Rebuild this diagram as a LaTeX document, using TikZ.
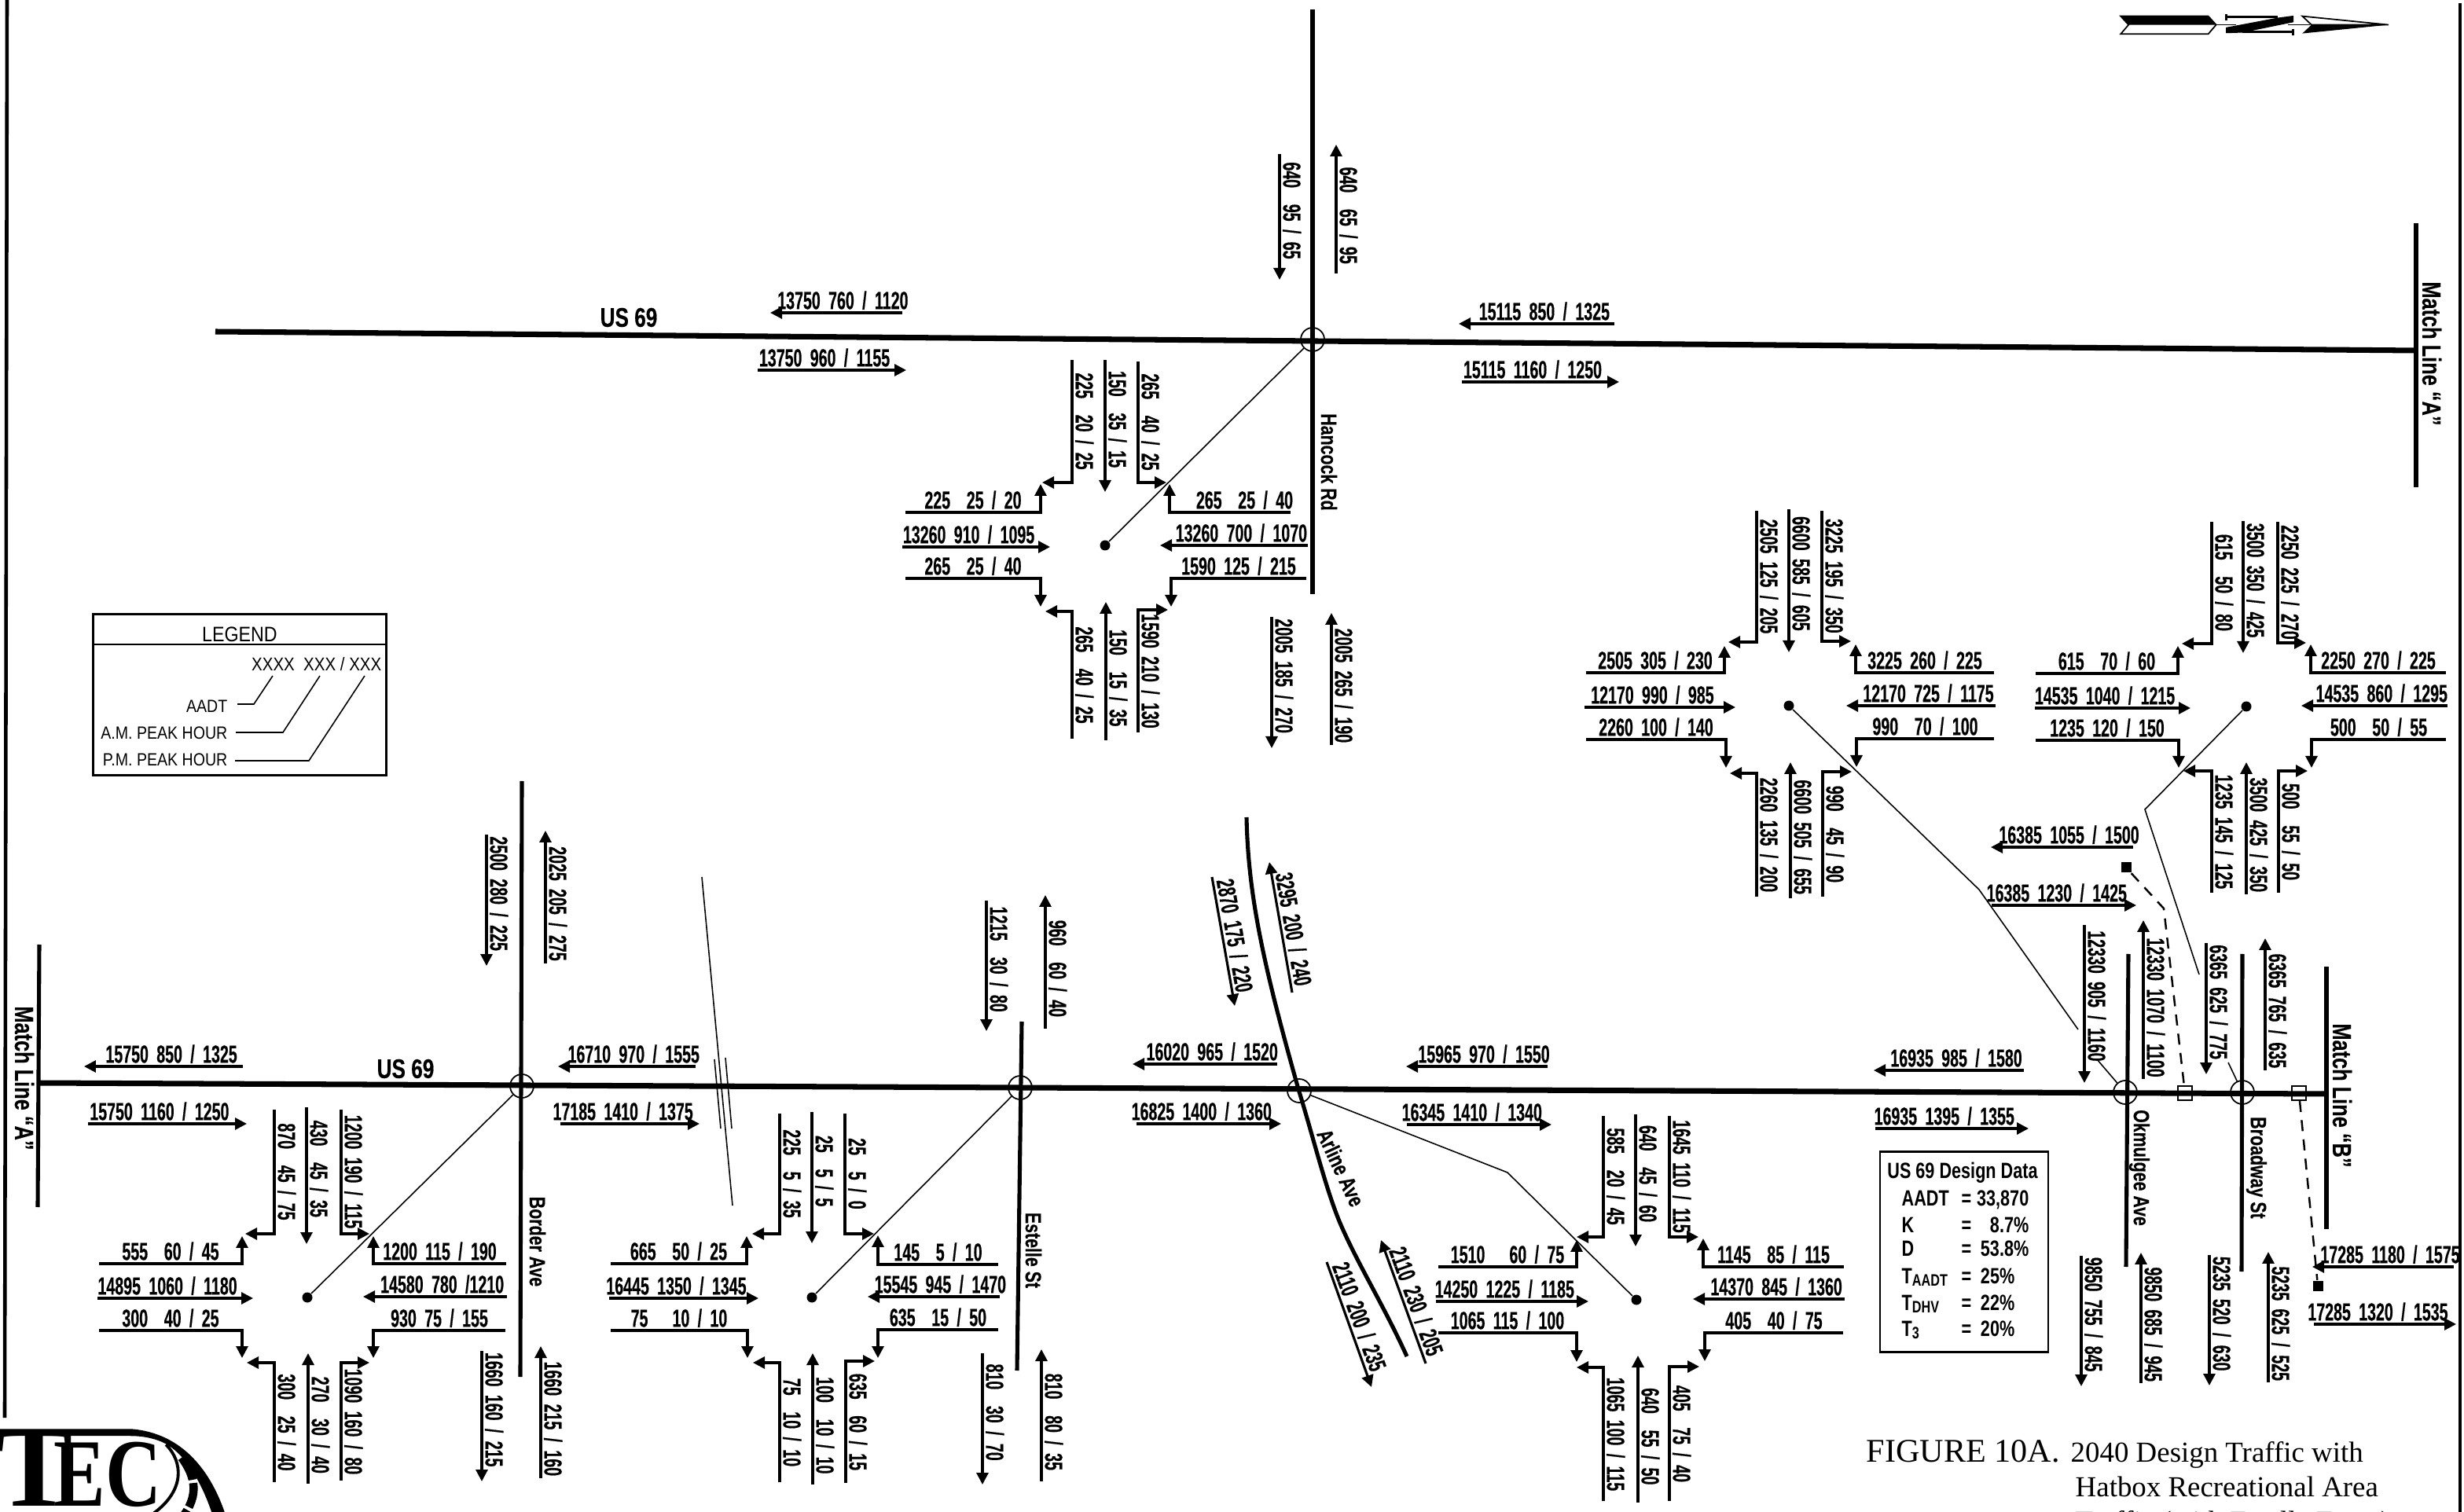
\documentclass[tikz,border=0pt]{standalone}
\usepackage{fontspec}
\usetikzlibrary{arrows.meta}
\setmainfont{Liberation Sans}
\newfontfamily\flowfont{Liberation Sans}[FakeStretch=0.62,WordSpace=1.9,BoldFeatures={FakeBold=0.4}]
\newfontfamily\roadfont{Liberation Sans}[FakeStretch=0.76,BoldFeatures={FakeBold=0.3}]
\newfontfamily\legfont{Liberation Sans}[FakeStretch=0.87]
\newfontfamily\datafont{Liberation Sans}[FakeStretch=0.77]
\newfontfamily\titlefont{Liberation Serif}
\newcommand{\lowtxt}[1]{\raisebox{-1pt}{\fontsize{6}{6}\selectfont #1}}
\newcommand{\hflow}[5]{\coordinate (#1_a) at (#2,#4); \coordinate (#1_b) at (#3,#4);
  \draw[flow] (#1_a) -- node[hlab] (#1) {#5} (#1_b);}
\newcommand{\vflow}[5]{\coordinate (#1_a) at (#2,#3); \coordinate (#1_b) at (#2,#4);
  \draw[flow] (#1_a) -- node[vlab] (#1) {#5} (#1_b);}
\newcommand{\dflow}[7]{\coordinate (#1_a) at (#2,#3); \coordinate (#1_b) at (#4,#5);
  \draw[flow] (#1_a) -- node[flowlab,pos=.47,rotate=#6,anchor=south] (#1) {#7} (#1_b);}
\newcommand{\hturn}[7][.5]{\coordinate (#2_a) at (#3,#5); \coordinate (#2_b) at (#4,#5); \coordinate (#2_c) at (#4,#6);
  \draw[flow] (#2_a) -- node[hlab,pos=#1] (#2) {#7} (#2_b) -- (#2_c);}
\newcommand{\vturn}[6]{\coordinate (#1_a) at (#2,#3); \coordinate (#1_b) at (#2,#4); \coordinate (#1_c) at (#5,#4);
  \draw[flow] (#1_a) -- node[vlab,pos=.5] (#1) {#6} (#1_b) -- (#1_c);}
\begin{document}
\begin{tikzpicture}[x=0.02cm,y=-0.02cm,>={Triangle[length=1.5mm,width=1.5mm]},
  road/.style={line width=2pt},
  sideroad/.style={line width=1.45pt},
  lead/.style={line width=0.45pt},
  flow/.style={line width=0.9pt,->},
  flowlab/.style={font=\flowfont\bfseries\fontsize{9}{9}\selectfont,inner sep=0.7pt},
  hlab/.style={flowlab,pos=.45,anchor=south},
  vlab/.style={flowlab,pos=.45,rotate=-90,anchor=south},
  roadlab/.style={font=\roadfont\bfseries\fontsize{8}{8}\selectfont,inner sep=0pt},
  xing/.style={circle,draw,line width=0.5pt,minimum size=3mm,inner sep=0pt},
  spot/.style={circle,fill,minimum size=1.3mm,inner sep=0pt},
  gate/.style={rectangle,draw,line width=0.5pt,minimum size=1.8mm,inner sep=0pt},
  stub/.style={rectangle,fill,minimum size=1.3mm,inner sep=0pt},
  legtxt/.style={font=\legfont\fontsize{6.4}{7}\selectfont,inner sep=0pt},
  datatxt/.style={font=\datafont\bfseries\fontsize{8}{8}\selectfont,inner sep=0pt,anchor=base},
  titletxt/.style={font=\titlefont\fontsize{10.5}{11}\selectfont,inner sep=0pt,anchor=base west}]
\useasboundingbox (0,0) rectangle (1567.5,962);
\clip (0,0) rectangle (1567.5,962);

\coordinate (fr_a) at (4.5,0); \coordinate (fr_b) at (3,902);
\coordinate (fr_c) at (1565,2); \coordinate (fr_d) at (1565,962);
\draw[line width=1.3pt] (fr_a) -- (fr_b);
\draw[line width=1pt] (fr_c) -- (fr_d);

\coordinate (us_a) at (137,211); \coordinate (us_b) at (1537,223);
\coordinate (us_c) at (24,689); \coordinate (us_d) at (1480,696);
\draw[road] (us_a) -- (us_b);
\draw[road] (us_c) -- (us_d);
\coordinate (hc_n) at (835,6); \coordinate (hc_s) at (835,378);
\coordinate (bd_n) at (332,497); \coordinate (bd_s) at (331,876);
\coordinate (es_n) at (650,650); \coordinate (es_s) at (647,872);
\coordinate (ok_n) at (1354,607); \coordinate (ok_s) at (1352.5,806);
\coordinate (br_n) at (1426.5,607); \coordinate (br_s) at (1426,809);
\coordinate (ar_n) at (793,520); \coordinate (ar_m) at (826,693); \coordinate (ar_s) at (895,863);
\coordinate (ma_n) at (1537,142); \coordinate (ma_s) at (1537,310);
\coordinate (mb_n) at (1480,615); \coordinate (mb_s) at (1480,782);
\coordinate (mc_n) at (25,601); \coordinate (mc_s) at (24,768);
\draw[sideroad] (hc_n) -- (hc_s);
\draw[sideroad] (bd_n) -- (bd_s);
\draw[sideroad] (es_n) -- (es_s);
\draw[sideroad] (ok_n) -- (ok_s);
\draw[sideroad] (br_n) -- (br_s);
\draw[sideroad] (ar_n) .. controls (794,570) and (804,615) .. (ar_m)
  .. controls (835,722) and (843,755) .. (852,777) .. controls (863,803) and (880,830) .. (ar_s);
\draw[sideroad] (ma_n) -- (ma_s);
\draw[sideroad] (mb_n) -- (mb_s);
\draw[sideroad] (mc_n) -- (mc_s);

\node[xing] (hc) at (835,216) {};
\node[xing] (bd) at (332,691) {};
\node[xing] (es) at (649,692) {};
\node[xing] (ar) at (826.5,694) {};
\node[xing] (ok) at (1352,695) {};
\node[xing] (br) at (1426.5,695) {};
\node[gate] (gt_a) at (1390,695.5) {};
\node[gate] (gt_b) at (1462.5,695.5) {};
\node[stub] (st_a) at (1352.5,552) {};
\node[stub] (st_b) at (1474.5,818) {};

\node[spot] (hc_d) at (703,347) {};
\node[spot] (bd_d) at (195.5,825.5) {};
\node[spot] (es_d) at (516.5,825.5) {};
\node[spot] (ar_d) at (1041,827) {};
\node[spot] (aa_d) at (1138,449) {};
\node[spot] (bb_d) at (1429,449.5) {};

\coordinate (ar_k) at (959,746);
\coordinate (aa_k) at (1259,566); \coordinate (aa_e) at (1322,655); \coordinate (aa_f) at (1334,674);
\coordinate (bb_k) at (1364.5,515); \coordinate (bb_e) at (1399,620); \coordinate (bb_f) at (1417.5,676);
\draw[lead] (hc_d) -- (hc);
\draw[lead] (bd_d) -- (bd);
\draw[lead] (es_d) -- (es);
\draw[lead] (ar_d) -- (ar_k) -- (ar);
\draw[lead] (aa_d) -- (aa_k) -- (aa_e);
\draw[lead] (aa_f) -- (ok);
\draw[lead] (bb_d) -- (bb_k) -- (bb_e);
\draw[lead] (bb_f) -- (br);

\coordinate (dd_a) at (1376.5,578);
\draw[line width=0.7pt,dash pattern=on 4pt off 3pt] (st_a) -- (dd_a) -- (gt_a);
\draw[line width=0.7pt,dash pattern=on 4pt off 3pt] (gt_b) -- (st_b);

\coordinate (bk_a) at (446.5,558); \coordinate (bk_b) at (466,767);
\coordinate (bk_c) at (454.5,674); \coordinate (bk_d) at (458.5,718);
\coordinate (bk_e) at (461.5,673); \coordinate (bk_f) at (465.5,718);
\draw[lead] (bk_a) -- (bk_b);
\draw[lead] (bk_c) -- (bk_d);
\draw[lead] (bk_e) -- (bk_f);

\node[roadlab,font=\roadfont\bfseries\fontsize{9.8}{10}\selectfont] (us_t1) at (400,202) {US 69};
\node[roadlab,font=\roadfont\bfseries\fontsize{9.8}{10}\selectfont] (us_t2) at (258,680) {US 69};
\node[roadlab,rotate=-90] (hc_t) at (845.5,294) {Hancock Rd};
\node[roadlab,rotate=-90] (bd_t) at (342,790) {Border Ave};
\node[roadlab,rotate=-90] (es_t) at (657.5,795.5) {Estelle St};
\node[roadlab,rotate=-65] (ar_t) at (853,743) {Arline Ave};
\node[roadlab,rotate=-90] (ok_t) at (1361,743) {Okmulgee Ave};
\node[roadlab,rotate=-90] (br_t) at (1435.5,743) {Broadway St};
\node[roadlab,rotate=-90,font=\roadfont\bfseries\fontsize{9.5}{10}\selectfont] (ma_t) at (1547,225) {Match Line “A”};
\node[roadlab,rotate=-90,font=\roadfont\bfseries\fontsize{9.5}{10}\selectfont] (mb_t) at (1490,697) {Match Line “B”};
\node[roadlab,rotate=-90,font=\roadfont\bfseries\fontsize{9.5}{10}\selectfont] (mc_t) at (15.5,686) {Match Line “A”};

\hflow{up_1}{574}{490}{199}{13750 760 / 1120}
\hflow{up_2}{482}{576.5}{235.5}{13750 960 / 1155}
\hflow{up_3}{1027}{928}{206}{15115 850 / 1325}
\hflow{up_4}{930}{1030}{243}{15115 1160 / 1250}
\vflow{up_5}{814}{98}{178}{640~~95 / 65}
\vflow{up_6}{850}{174}{92}{640~~65 / 95}
\vflow{up_7}{809}{392.5}{476}{2005 185 / 270}
\vflow{up_8}{847}{474}{390}{2005 265 / 190}

\hflow{lo_1}{154.5}{53.5}{678.5}{15750 850 / 1325}
\hflow{lo_2}{56}{157}{715}{15750 1160 / 1250}
\vflow{lo_3}{309.5}{531}{614.5}{2500 280 / 225}
\vflow{lo_4}{347}{613}{528.5}{2025 205 / 275}
\hflow{lo_5}{442.5}{355}{678.5}{16710 970 / 1555}
\hflow{lo_6}{356.5}{445}{715}{17185 1410 / 1375}
\vflow{lo_7}{306.5}{859.5}{942.5}{1660 160 / 215}
\vflow{lo_8}{344}{940.5}{856.5}{1660 215 / 160}
\vflow{lo_9}{627.5}{573}{656}{1215~~30 / 80}
\vflow{lo_10}{665}{654.5}{569.5}{960~~60 / 40}
\vflow{lo_11}{625}{861}{944.5}{810~~30 / 70}
\vflow{lo_12}{662.5}{942.5}{858.5}{810~~80 / 35}
\hflow{lo_13}{812.5}{720.5}{677}{16020 965 / 1520}
\hflow{lo_14}{723}{815}{715}{16825 1400 / 1360}
\dflow{lo_15}{771}{558}{785.5}{640}{-80}{2870 175 / 220}
\dflow{lo_16}{822}{631.5}{807.5}{548.5}{-80}{3295 200 / 240}
\dflow{lo_17}{844}{803}{872.5}{882.5}{-70}{2110 200 / 235}
\dflow{lo_18}{907}{867.5}{878.5}{789}{-70}{2110 230 / 205}
\hflow{lo_19}{984.5}{894.5}{678.5}{15965 970 / 1550}
\hflow{lo_20}{895}{987}{715.5}{16345 1410 / 1340}
\hflow{lo_21}{1287.5}{1192}{681}{16935 985 / 1580}
\hflow{lo_22}{1193}{1290.5}{718}{16935 1395 / 1355}
\hflow{lo_23}{1357}{1266.5}{539}{16385 1055 / 1500}
\hflow{lo_24}{1267}{1359}{576}{16385 1230 / 1425}
\vflow{lo_25}{1326}{588.5}{689}{12330 905 / 1160}
\vflow{lo_26}{1363.5}{686.5}{585.5}{12330 1070 / 1100}
\vflow{lo_27}{1403.5}{600}{683.5}{6365 625 / 775}
\vflow{lo_28}{1441}{681}{597}{6365 765 / 635}
\vflow{lo_29}{1324}{799}{882}{9850 755 / 845}
\vflow{lo_30}{1362}{880}{797}{9850 685 / 945}
\vflow{lo_31}{1405.5}{798.5}{881.5}{5235 520 / 630}
\vflow{lo_32}{1443}{879.5}{796.5}{5235 625 / 525}
\hflow{lo_33}{1561}{1471}{806}{17285 1180 / 1575}
\hflow{lo_34}{1472}{1562.5}{842.5}{17285 1320 / 1535}

\begin{scope}[shift={(703,347)}]
\vturn{hj_1}{-21}{-118}{-40}{-40}{225~~20 / 25}
\vflow{hj_2}{0}{-118}{-34}{150~~35 / 15}
\vturn{hj_3}{21}{-117}{-40}{39}{265~~40 / 25}
\hturn{hj_4}{-127}{-41}{-21}{-39}{225~~25 / 20}
\hflow{hj_5}{-129}{-35}{1}{13260 910 / 1095}
\hturn{hj_6}{-127}{-41}{21}{39}{265~~25 / 40}
\hturn[.38]{hj_7}{118}{41}{-21}{-39}{265~~25 / 40}
\hflow{hj_8}{129}{35}{0}{13260 700 / 1070}
\hturn{hj_9}{128}{42}{21}{39}{1590 125 / 215}
\vturn{hj_10}{-21}{123}{42}{-38}{265~~40 / 25}
\vflow{hj_11}{0.5}{124}{36}{150~~15 / 35}
\vturn{hj_12}{21}{119}{41}{40}{1590 210 / 130}
\end{scope}

\begin{scope}[shift={(195.5,825.5)}]
\vturn{bj_1}{-21}{-119.5}{-40.5}{-39.5}{870~~45 / 75}
\vflow{bj_2}{-0.5}{-121}{-34}{430~~45 / 35}
\vturn{bj_3}{21.5}{-119.5}{-40.5}{39.5}{1200 190 / 115}
\hturn{bj_4}{-132.5}{-41.5}{-21.5}{-39}{555~~60 / 45}
\hflow{bj_5}{-133.5}{-34.5}{0.5}{14895 1060 / 1180}
\hturn{bj_6}{-132.5}{-41.5}{21}{38.5}{300~~40 / 25}
\hturn{bj_7}{126.5}{42}{-21.5}{-39}{1200 115 / 190}
\hflow{bj_8}{127}{35.5}{-0.5}{14580 780 /1210}
\hturn{bj_9}{126}{42}{21}{38.5}{930 75 / 155}
\vturn{bj_10}{-21}{117.5}{41.5}{-38.5}{300~~25 / 40}
\vflow{bj_11}{0.5}{118.5}{35.5}{270~~30 / 40}
\vturn{bj_12}{21.5}{116.5}{41.5}{39.5}{1090 160 / 80}
\end{scope}

\begin{scope}[shift={(516.5,825.5)}]
\vturn{ej_1}{-20.5}{-117}{-40.5}{-38}{225~~5 / 35}
\vflow{ej_2}{0}{-118}{-34.5}{25~~5 / 5}
\vturn{ej_3}{21}{-117}{-40.5}{39.5}{25~~5 / 0}
\hturn{ej_4}{-128}{-41.5}{-21.5}{-39}{665~~50 / 25}
\hflow{ej_5}{-129}{-34}{0.5}{16445 1350 / 1345}
\hturn{ej_6}{-128}{-41}{21}{38.5}{75~~~10 / 10}
\hturn{ej_7}{118.5}{42}{-21}{-39.5}{145~~5 / 10}
\hflow{ej_8}{119.5}{35.5}{-0.5}{15545 945 / 1470}
\hturn{ej_9}{118.5}{42}{20.5}{38.5}{635~~15 / 50}
\vturn{ej_10}{-20.5}{117.5}{41.5}{-37.5}{75~~10 / 10}
\vflow{ej_11}{0.5}{119}{35.5}{100~~10 / 10}
\vturn{ej_12}{21.5}{118}{40.5}{40}{635~~60 / 15}
\end{scope}

\begin{scope}[shift={(1041,827)}]
\vturn{rj_1}{-21}{-117}{-40}{-38}{585~~20 / 45}
\vflow{rj_2}{-0.5}{-118}{-34}{640~~45 / 60}
\vturn{rj_3}{21}{-117}{-40}{39.5}{1645 110 / 115}
\hturn{rj_4}{-126}{-38}{-21}{-38}{1510~~~60 / 75}
\hflow{rj_5}{-127.5}{-30.5}{1}{14250 1225 / 1185}
\hturn{rj_6}{-126}{-38}{21}{39.5}{1065 115 / 100}
\hturn{rj_7}{132}{42.5}{-21}{-39}{1145~~85 / 115}
\hflow{rj_8}{132.5}{36}{-0.5}{14370 845 / 1360}
\hturn{rj_9}{131.5}{43.5}{21}{39}{405~~40 / 75}
\vturn{rj_10}{-21}{128}{43}{-38}{1065 100 / 115}
\vflow{rj_11}{1}{129}{35.5}{640~~55 / 50}
\vturn{rj_12}{21}{128}{42.5}{40}{405~~75 / 40}
\end{scope}

\begin{scope}[shift={(1138,449)}]
\vturn{aj_1}{-20.5}{-124}{-40.5}{-38.5}{2505 125 / 205}
\vflow{aj_2}{0}{-125}{-34}{6600 585 / 605}
\vturn{aj_3}{21}{-124}{-41}{39.5}{3225 195 / 350}
\hturn{aj_4}{-129}{-41}{-21}{-38}{2505 305 / 230}
\hflow{aj_5}{-130}{-34}{1}{12170 990 / 985}
\hturn{aj_6}{-129}{-40}{21.5}{39.5}{2260 100 / 140}
\hturn{aj_7}{130.5}{42.5}{-21}{-39}{3225 260 / 225}
\hflow{aj_8}{131.5}{36.5}{0}{12170 725 / 1175}
\hturn{aj_9}{130.5}{43}{21}{39}{990~~70 / 100}
\vturn{aj_10}{-20.5}{121.5}{43}{-37.5}{2260 135 / 200}
\vflow{aj_11}{1}{122.5}{36}{6600 505 / 655}
\vturn{aj_12}{21.5}{121.5}{42}{40}{990~~45 / 90}
\end{scope}

\begin{scope}[shift={(1429,449.5)}]
\vturn{cj_1}{-22}{-117.5}{-40}{-41}{615~~50 / 80}
\vflow{cj_2}{-2}{-118}{-34}{3500 350 / 425}
\vturn{cj_3}{20}{-117.5}{-40.5}{38}{2250 225 / 270}
\hturn{cj_4}{-134}{-43.5}{-21}{-38.5}{615~~70 / 60}
\hflow{cj_5}{-134.5}{-35.5}{1}{14535 1040 / 1215}
\hturn{cj_6}{-134}{-43}{21.5}{39}{1235 120 / 150}
\hturn{cj_7}{127}{41}{-21.5}{-39.5}{2250 270 / 225}
\hflow{cj_8}{128}{35}{-0.5}{14535 860 / 1295}
\hturn{cj_9}{127}{41.5}{21}{39}{500~~50 / 55}
\vturn{cj_10}{-22}{118.5}{41}{-40}{1235 145 / 125}
\vflow{cj_11}{0}{119.5}{35.5}{3500 425 / 350}
\vturn{cj_12}{20.5}{118.5}{41}{39}{500~~55 / 50}
\end{scope}

\node[draw,line width=0.7pt,minimum width=3.73cm,minimum height=2.05cm,inner sep=0pt] (lg) at (152.5,442) {};
\coordinate (lg_w) at (lg.west |- 0,410); \coordinate (lg_e) at (lg.east |- 0,410);
\draw[line width=0.6pt] (lg_w) -- (lg_e);
\node[legtxt,font=\legfont\fontsize{7.6}{8}\selectfont] (lg_t) at (152.5,403.5) {LEGEND};
\node[legtxt,font=\legfont\fontsize{6.7}{7}\selectfont,anchor=east] (lg_x) at (243,422.5) {XXXX~~XXX / XXX};
\node[legtxt,anchor=east] (lg_a) at (145,449.5) {AADT};
\node[legtxt,anchor=east] (lg_b) at (145,466.5) {A.M. PEAK HOUR};
\node[legtxt,anchor=east] (lg_c) at (145,483.5) {P.M. PEAK HOUR};
\coordinate (la_a) at (151,448); \coordinate (la_b) at (161.5,448); \coordinate (la_c) at (173.5,430);
\coordinate (lb_a) at (150,466); \coordinate (lb_b) at (180,466); \coordinate (lb_c) at (203.5,430);
\coordinate (lc_a) at (149.5,484); \coordinate (lc_b) at (196.5,484); \coordinate (lc_c) at (232,430);
\draw[lead] (la_a) -- (la_b) -- (la_c);
\draw[lead] (lb_a) -- (lb_b) -- (lb_c);
\draw[lead] (lc_a) -- (lc_b) -- (lc_c);

\node[draw,line width=0.7pt,minimum width=2.14cm,minimum height=2.55cm,inner sep=0pt] (dd) at (1249.5,796.5) {};
\node[datatxt] (dd_t) at (1248.5,749.5) {US 69 Design Data};
\foreach \i/\y/\lab/\val/\xv in {1/767/AADT/{33,870}/1291,2/784/K/8.7\%/1291,3/799/D/53.8\%/1291,
  4/816.5/T\lowtxt{AADT}/25\%/1282,5/833.5/T\lowtxt{DHV}/22\%/1282,6/850/T\lowtxt{3}/20\%/1282}{
  \node[datatxt,anchor=base west] (dd_l\i) at (1209.5,\y) {\lab};
  \node[datatxt] (dd_e\i) at (1251,\y) {=};
  \node[datatxt,anchor=base east] (dd_v\i) at (\xv,\y) {\val};
}

\node[titletxt,font=\titlefont\fontsize{12}{12}\selectfont] (fg_a) at (1187,930) {FIGURE 10A.};
\node[titletxt] (fg_b) at (1317,930) {2040 Design Traffic with};
\node[titletxt] (fg_c) at (1320,952) {Hatbox Recreational Area};
\node[titletxt] (fg_d) at (1320,974) {Traffic (with Estelle Entry)};

\begin{scope}[shift={(1320,0)},x=0.00333cm,y=-0.00333cm,line width=0.5pt]
\draw (175,62) -- (510,62) -- (540,95) -- (510,130) -- (175,130) -- (205,95) -- cycle;
\fill (175,62) -- (510,62) -- (540,95) -- (205,95) -- cycle;
\draw (540,95) -- (615,95);
\draw (815,95) -- (900,95);
\fill (578,105) -- (775,68) -- (836,60) -- (836,85) -- (640,125) -- (578,127) -- cycle;
\draw[line width=0.8pt] (580,55) -- (580,77);
\draw[line width=0.8pt] (580,65) -- (775,65);
\draw[line width=0.8pt] (640,122) -- (835,122);
\draw[line width=0.8pt] (835,110) -- (835,135);
\draw (870,62) -- (905,95) -- (1200,95) -- cycle;
\fill (870,128) -- (905,95) -- (1200,95) -- cycle;
\end{scope}

\begin{scope}[shift={(0,895)},x=0.00333cm,y=-0.00333cm]
\fill (-10,85) -- (500,85) .. controls (700,100) and (810,250) .. (865,420) -- (815,420)
  .. controls (770,280) and (700,170) .. (620,135) .. controls (580,118) and (540,112) .. (500,112) -- (-10,112) -- cycle;
\draw[line width=1.1pt] (635,145) .. controls (700,210) and (710,320) .. (585,410);
\draw[line width=3pt,dash pattern=on 9pt off 1.2pt] (695,195) .. controls (750,270) and (760,340) .. (700,420);
\node[font=\titlefont\bfseries\fontsize{42}{42}\selectfont,inner sep=0pt,anchor=base] (tc_a) at (130,380) {T};
\node[font=\titlefont\bfseries\fontsize{35}{35}\selectfont,inner sep=0pt,anchor=base west,xscale=0.8] (tc_b) at (205,380) {EC};
\end{scope}
\end{tikzpicture}
\end{document}
